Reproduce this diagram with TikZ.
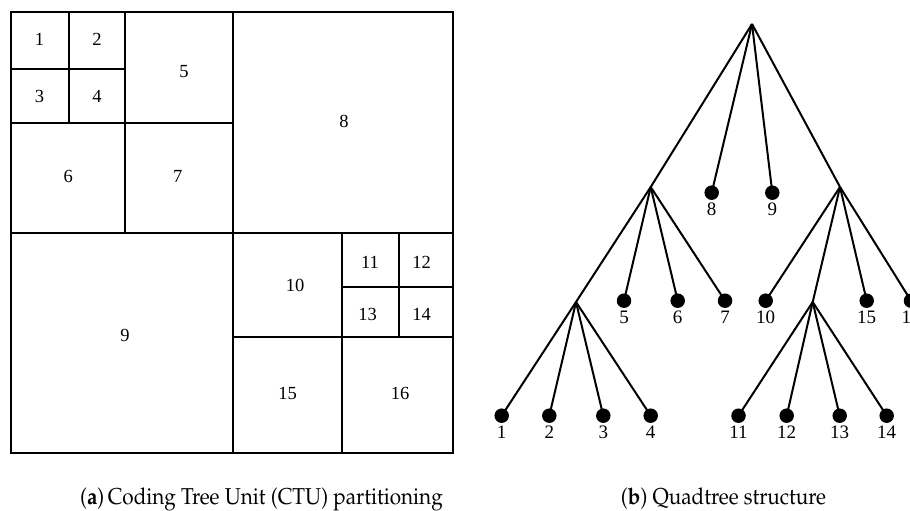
\documentclass[tikz,border=0pt]{standalone}
\usepackage[T1]{fontenc}
\usepackage{fontspec}
\setmainfont{Liberation Serif}
\usetikzlibrary{positioning}
\newcommand{\capfont}{\fontencoding{T1}\fontfamily{ppl}\fontsize{23}{27}\selectfont}
\newcommand{\captext}[1]{\scalebox{0.9}[1]{#1}}
\tikzset{
  blockline/.style={
    draw=black, line width=2.2pt
  },
  blocklabel/.style={
    font=\fontsize{18.5}{22}\selectfont, inner sep=0pt
  },
  branch/.style={
    draw=black, line width=2pt
  },
  leaf/.style={
    circle, fill=black, inner sep=0pt, minimum size=14.5pt
  },
  leaflabel/.style={
    font=\fontsize{19}{22}\selectfont, inner sep=2.5pt
  },
  subcap/.style={
    font=\capfont, anchor=base, inner sep=0pt
  }
}

\begin{document}
\begin{tikzpicture}[x=1pt, y=-1pt]

\useasboundingbox (0,0) rectangle (910,511);

% ── (a) CTU partitioning ──────────────────────────────────────────────────────

\draw[blockline] (11,12) rectangle (453,453);

% vertical splits
\draw[blockline] (69.3,12) -- (69.3,123.3);
\draw[blockline] (124.7,12) -- (124.7,232.7);
\draw[blockline] (233.3,12) -- (233.3,453);
\draw[blockline] (342.3,232.7) -- (342.3,453);
\draw[blockline] (399,232.7) -- (399,337.3);

% horizontal splits
\draw[blockline] (11,69.3) -- (124.7,69.3);
\draw[blockline] (11,123.3) -- (233.3,123.3);
\draw[blockline] (11,232.7) -- (453,232.7);
\draw[blockline] (342.3,287.3) -- (453,287.3);
\draw[blockline] (233.3,337.3) -- (453,337.3);

% block numbers
\node[blocklabel] (b1) at (39.5,39) {1};
\node[blocklabel] (b2) at (97,39) {2};
\node[blocklabel] (b3) at (39.5,96.7) {3};
\node[blocklabel] (b4) at (97,96.7) {4};
\node[blocklabel] (b5) at (184,71.7) {5};
\node[blocklabel] (b6) at (68.3,176.7) {6};
\node[blocklabel] (b7) at (177.7,176.7) {7};
\node[blocklabel] (b8) at (344,121.7) {8};
\node[blocklabel] (b9) at (125,335) {9};
\node[blocklabel] (b10) at (295,285) {10};
\node[blocklabel] (b11) at (370,262.7) {11};
\node[blocklabel] (b12) at (421.7,262.7) {12};
\node[blocklabel] (b13) at (367.7,314) {13};
\node[blocklabel] (b14) at (421.7,314) {14};
\node[blocklabel] (b15) at (287.7,393.3) {15};
\node[blocklabel] (b16) at (400,393.3) {16};

% ── (b) Quadtree ──────────────────────────────────────────────────────────────

\coordinate (root) at (752,24);
\coordinate (qA) at (650.7,187);
\coordinate (qB) at (840,187);
\coordinate (qL) at (576,302);
\coordinate (qR) at (812.7,302);

\node[leaf, label={[leaflabel]below:8}] (l8) at (711.7,192.7) {};
\node[leaf, label={[leaflabel]below:9}] (l9) at (772.3,192.7) {};

\node[leaf, label={[leaflabel]below:5}] (l5) at (624,300.7) {};
\node[leaf, label={[leaflabel]below:6}] (l6) at (677.7,300.7) {};
\node[leaf, label={[leaflabel]below:7}] (l7) at (725,300.7) {};
\node[leaf, label={[leaflabel]below:10}] (l10) at (765.7,300.7) {};
\node[leaf, label={[leaflabel]below:15}] (l15) at (866.7,300.7) {};
\node[leaf, label={[leaflabel]below:16}] (l16) at (911,300.7) {};

\node[leaf, label={[leaflabel]below:1}] (l1) at (501.7,415.7) {};
\node[leaf, label={[leaflabel]below:2}] (l2) at (549.3,415.7) {};
\node[leaf, label={[leaflabel]below:3}] (l3) at (603.3,415.7) {};
\node[leaf, label={[leaflabel]below:4}] (l4) at (650.7,415.7) {};
\node[leaf, label={[leaflabel]below:11}] (l11) at (738.5,415.7) {};
\node[leaf, label={[leaflabel]below:12}] (l12) at (786.7,415.7) {};
\node[leaf, label={[leaflabel]below:13}] (l13) at (839.7,415.7) {};
\node[leaf, label={[leaflabel]below:14}] (l14) at (886.7,415.7) {};

% branches from the root
\draw[branch] (root) -- (qA);
\draw[branch] (root) -- (l8.center);
\draw[branch] (root) -- (l9.center);
\draw[branch] (root) -- (qB);

% branches of the first level
\draw[branch] (qA) -- (qL);
\draw[branch] (qA) -- (l5.center);
\draw[branch] (qA) -- (l6.center);
\draw[branch] (qA) -- (l7.center);
\draw[branch] (qB) -- (l10.center);
\draw[branch] (qB) -- (qR);
\draw[branch] (qB) -- (l15.center);
\draw[branch] (qB) -- (l16.center);

% branches of the second level
\draw[branch] (qL) -- (l1.center);
\draw[branch] (qL) -- (l2.center);
\draw[branch] (qL) -- (l3.center);
\draw[branch] (qL) -- (l4.center);
\draw[branch] (qR) -- (l11.center);
\draw[branch] (qR) -- (l12.center);
\draw[branch] (qR) -- (l13.center);
\draw[branch] (qR) -- (l14.center);

% ── Sub-captions ──────────────────────────────────────────────────────────────

\node[subcap] (capA) at (261.5,504) {\captext{(\textbf{a})\,Coding Tree Unit (CTU) partitioning}};
\node[subcap] (capB) at (723.5,504) {\captext{(\textbf{b}) Quadtree structure}};

\end{tikzpicture}
\end{document}
